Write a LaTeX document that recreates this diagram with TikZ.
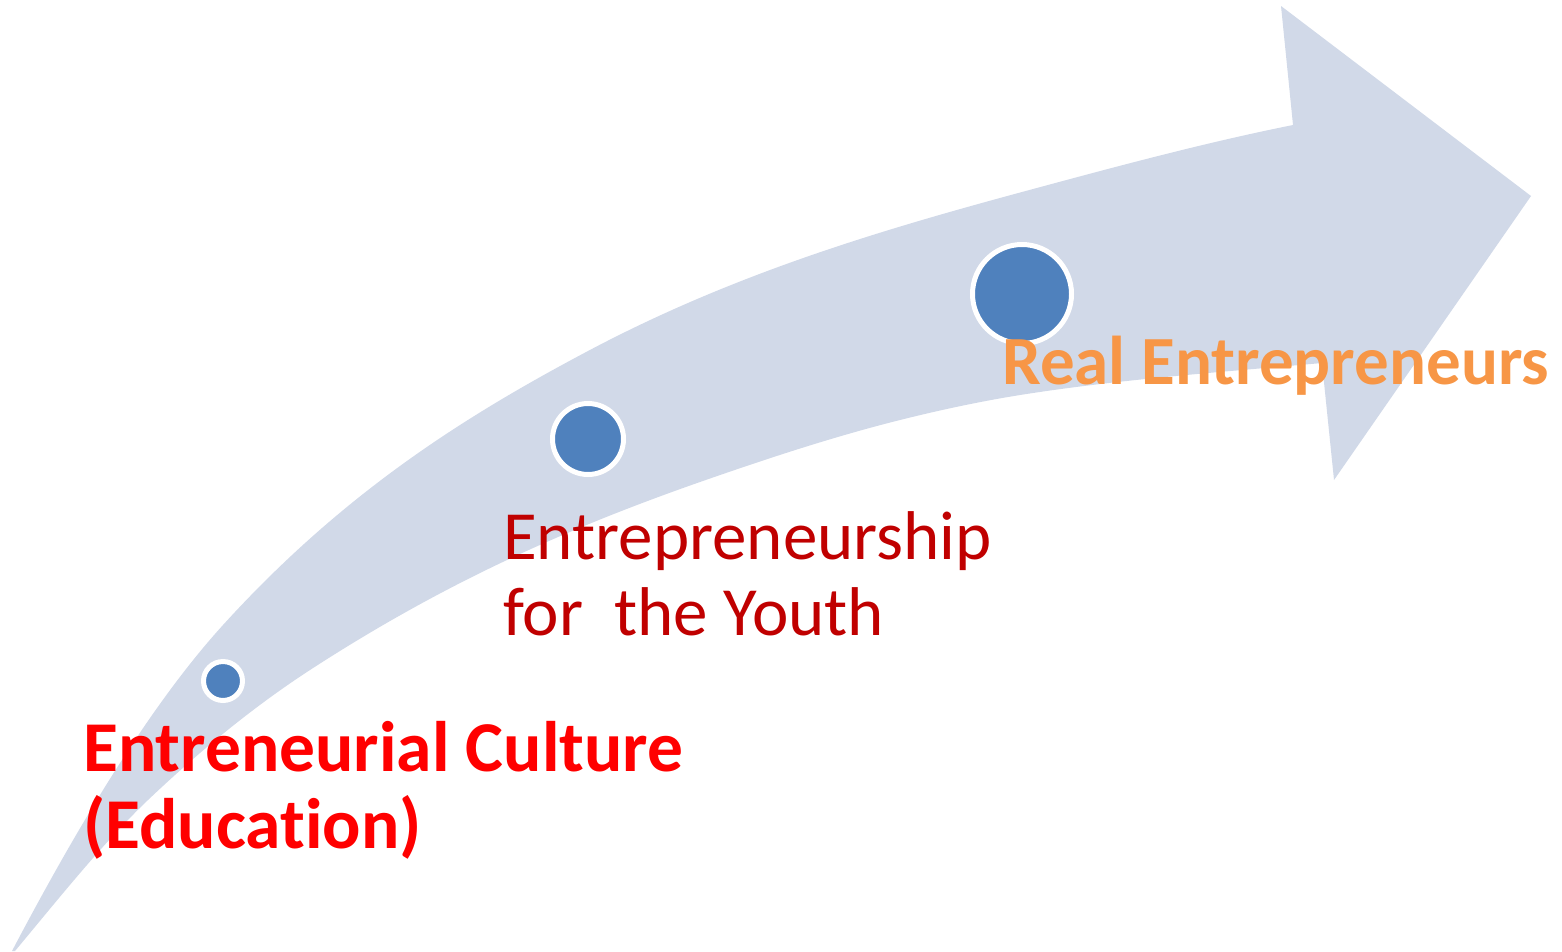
\documentclass[tikz,border=0pt]{standalone}
\usepackage{fontspec}
\setmainfont{Carlito}[Ligatures=NoCommon]
\definecolor{bandcol}{HTML}{D1D9E8}
\definecolor{dotcol}{HTML}{4F81BD}
\definecolor{redA}{HTML}{FF0000}
\definecolor{redB}{HTML}{C00000}
\definecolor{orangeA}{HTML}{F79646}
\begin{document}
\begin{tikzpicture}[x=1pt,y=-1pt,
  dot/.style={circle,fill=dotcol,draw=white,line width=5pt,inner sep=0pt},
  lbl/.style={anchor=base west,inner sep=0pt}]
\path[use as bounding box] (0,0) rectangle (1562,951);
\begin{scope}
\clip (0,0) rectangle (1562,951);
\fill[bandcol] (12,951)
  .. controls (82.33,817.4) and (152.67,702.4) .. (223,625)
  .. controls (344.67,491.2) and (466.33,415.5) .. (588,351)
  .. controls (732.67,274.3) and (877.33,231.1) .. (1022,192)
  .. controls (1112.33,167.6) and (1202.67,143.1) .. (1293,125)
  -- (1281,6) -- (1531,196) -- (1334,480) -- (1322,363)
  .. controls (1225.67,371.7) and (1129.33,378.5) .. (1033,393)
  .. controls (988.67,399.6) and (944.33,408.9) .. (900,420)
  .. controls (833.33,436.7) and (766.67,458.7) .. (700,482)
  .. controls (635.67,504.5) and (571.33,529.8) .. (507,560)
  .. controls (441.33,590.9) and (375.67,627.3) .. (310,670)
  .. controls (256,705.1) and (202,748.7) .. (148,800)
  .. controls (103.67,842.1) and (59.33,897.8) .. (15,951)
  -- cycle;
\end{scope}
\node[dot,minimum size=39pt] (c1) at (223,681) {};
\node[dot,minimum size=71pt] (c2) at (588,439) {};
\node[dot,minimum size=99pt] (c3) at (1022,294) {};
\node[lbl,text=redA,font=\fontsize{71.5}{77}\selectfont\bfseries] (t1) at (83,771)
  {\begin{tabular}[t]{@{}l@{}}Entreneurial Culture\\(Education)\end{tabular}};
\node[lbl,text=redB,font=\fontsize{69}{76}\selectfont] (t2) at (503,559)
  {\begin{tabular}[t]{@{}l@{}}Entrepreneurship\\for~ the Youth\end{tabular}};
\node[lbl,text=orangeA,font=\fontsize{69}{76}\selectfont\bfseries] (t3) at (1002,384) {Real Entrepreneurs};
\end{tikzpicture}
\end{document}
